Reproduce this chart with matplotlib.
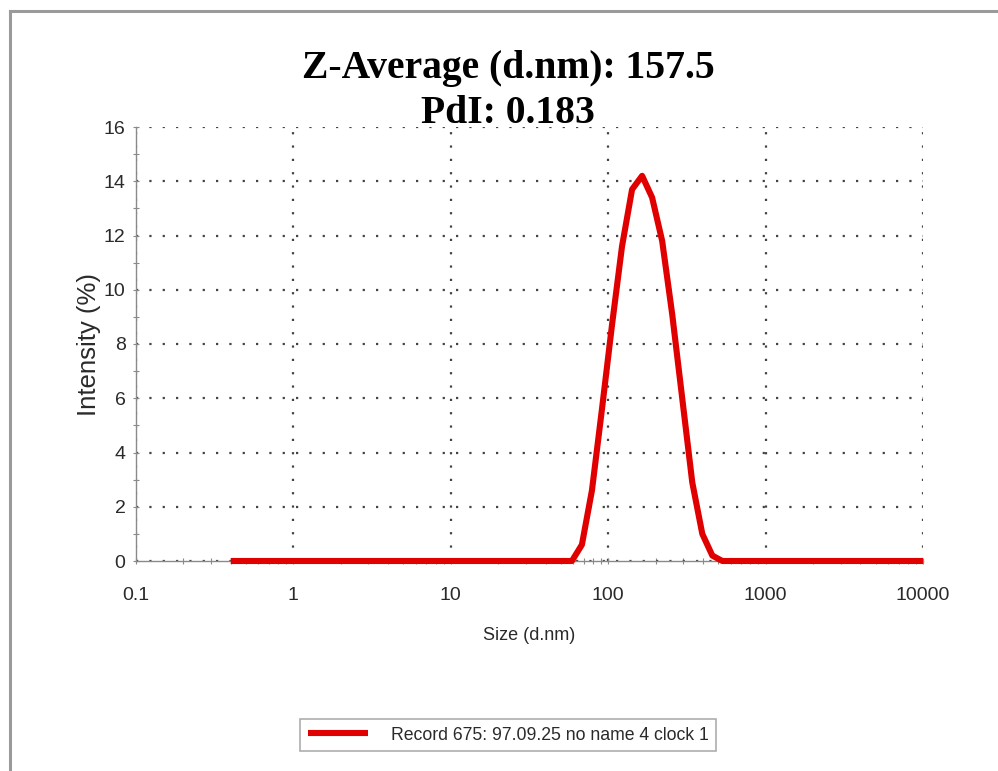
import matplotlib
matplotlib.use("Agg")
import matplotlib.pyplot as plt
from matplotlib.lines import Line2D
from matplotlib.ticker import LogLocator, FixedLocator, FixedFormatter, MultipleLocator

# Size classes (d.nm) and intensity distribution (%)
sizes = [0.4, 0.4632, 0.5365, 0.6213, 0.7195, 0.8332, 0.9649, 1.117, 1.294, 1.499,
         1.736, 2.010, 2.328, 2.696, 3.122, 3.615, 4.187, 4.849, 5.615, 6.503,
         7.531, 8.721, 10.10, 11.70, 13.54, 15.69, 18.17, 21.04, 24.36, 28.21,
         32.67, 37.84, 43.82, 50.75, 58.77, 68.06, 78.82, 91.28, 105.7, 122.4,
         141.8, 164.2, 190.1, 220.2, 255.0, 295.3, 342.0, 396.1, 458.7, 531.2,
         615.1, 712.4, 825.0, 955.4, 1106, 1281, 1484, 1718, 1990, 2305,
         2669, 3091, 3580, 4145, 4801, 5560, 6439, 7456, 8635, 10000]
intensity = [0.0] * 35 + [0.6, 2.6, 5.6, 8.7, 11.6, 13.7, 14.2, 13.4, 11.8,
                          9.1, 6.0, 2.9, 1.0, 0.2] + [0.0] * 21

x_ticks = [0.1, 1, 10, 100, 1000, 10000]
x_tick_labels = ["0.1", "1", "10", "100", "1000", "10000"]
y_ticks = [0, 2, 4, 6, 8, 10, 12, 14, 16]

title_text = "Z-Average (d.nm): 157.5\nPdI: 0.183"
legend_label = "Record 675: 97.09.25 no name 4 clock 1"

sans = ["Liberation Sans", "DejaVu Sans"]
serif = ["Liberation Serif", "DejaVu Serif"]
text_col = "#2a2a2a"

fig = plt.figure(figsize=(9.98, 7.71), dpi=100)
fig.patch.set_facecolor("white")

# outer frame
fig.add_artist(Line2D([10 / 998, 1.0], [1 - 11 / 771, 1 - 11 / 771],
                      transform=fig.transFigure, color="#9a9a9a", lw=2.2))
fig.add_artist(Line2D([10 / 998, 10 / 998], [0.0, 1 - 11 / 771],
                      transform=fig.transFigure, color="#9a9a9a", lw=2.2))

ax = fig.add_axes([136 / 998, 1 - 561 / 771, (923 - 136) / 998, (561 - 127) / 771])
ax.set_xscale("log")
ax.set_xlim(0.1, 10000)
ax.set_ylim(0, 16)

ax.plot(sizes, intensity, color="#e00000", lw=4.4, solid_joinstyle="round",
        solid_capstyle="butt", label=legend_label, zorder=3, clip_on=False)

ax.xaxis.set_major_locator(FixedLocator(x_ticks))
ax.xaxis.set_major_formatter(FixedFormatter(x_tick_labels))
ax.xaxis.set_minor_locator(LogLocator(base=10, subs=range(2, 10), numticks=20))
ax.xaxis.set_minor_formatter(plt.NullFormatter())
ax.yaxis.set_major_locator(FixedLocator(y_ticks))
ax.yaxis.set_minor_locator(MultipleLocator(1))

for s in ["top", "right"]:
    ax.spines[s].set_visible(False)
for s in ["left", "bottom"]:
    ax.spines[s].set_color("#8a8a8a")
    ax.spines[s].set_linewidth(1.0)

ax.tick_params(which="major", direction="inout", length=5, width=0.8,
               color="#8a8a8a", labelsize=14, labelcolor=text_col)
ax.tick_params(axis="x", which="major", pad=16)
ax.tick_params(axis="y", which="major", pad=5)
ax.tick_params(which="minor", direction="inout", length=5, width=0.8,
               color="#8a8a8a")
for lab in ax.get_xticklabels() + ax.get_yticklabels():
    lab.set_family(sans)

ax.grid(True, which="major", color="#444444", linestyle=(0, (1, 5)), lw=1.6)

ax.set_xlabel("Size (d.nm)", family=sans, fontsize=13, color=text_col, labelpad=17)
ax.set_ylabel("Intensity (%)", family=sans, fontsize=18.5, color=text_col, labelpad=2)

fig.text(508 / 998, 1 - 91 / 771, title_text, ha="center", va="center",
         family=serif, fontweight="bold", fontsize=28.5, linespacing=1.27)

leg = fig.legend(loc="center", bbox_to_anchor=(508 / 998, 1 - 735 / 771),
                 frameon=True, fancybox=False, prop={"family": sans, "size": 12.7},
                 handlelength=3.4, handletextpad=1.3, borderpad=0.45,
                 borderaxespad=0, edgecolor="#999999")
leg.get_frame().set_linewidth(1.2)
for t in leg.get_texts():
    t.set_color(text_col)

fig.savefig("out.png", dpi=100, facecolor="white")
